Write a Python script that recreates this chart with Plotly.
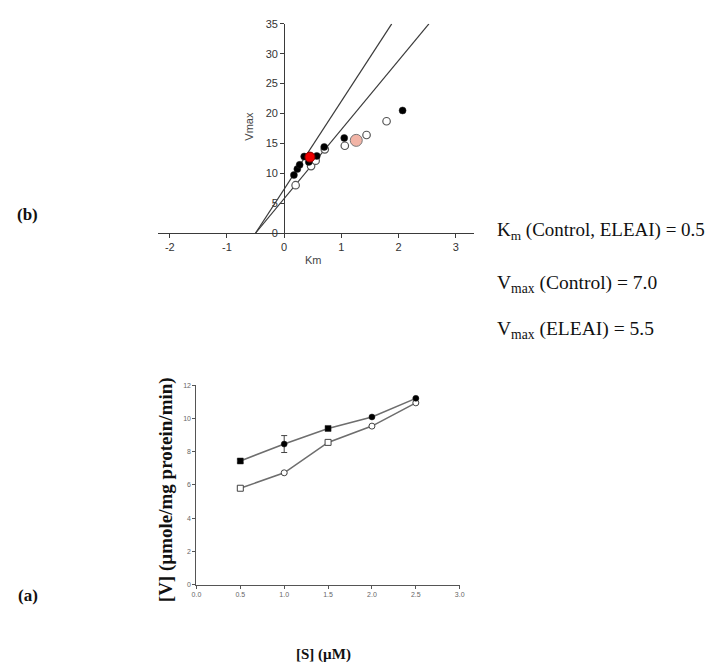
import plotly.graph_objects as go

W, H = 721, 671
OX, OY = 8, 8  # page body margin offset


def px(x):
    return (x - OX) / W


def py(y):
    return 1 - (y - OY) / H


# ---- (b) Km vs Vmax plot data ----
ctrl_km = [0.17, 0.23, 0.27, 0.35, 0.43, 0.57, 0.70, 1.05, 2.07]
ctrl_vmax = [9.7, 10.7, 11.4, 12.8, 11.9, 12.9, 14.4, 15.9, 20.5]
eleai_km = [0.20, 0.47, 0.55, 0.71, 1.06, 1.44, 1.79]
eleai_vmax = [8.0, 11.2, 12.1, 14.0, 14.6, 16.4, 18.7]
mean_ctrl_km = [0.45]
mean_ctrl_vmax = [12.7]
mean_eleai_km = [1.26]
mean_eleai_vmax = [15.5]
line_ctrl_km = [-0.5, 1.88]
line_ctrl_vmax = [0, 35]
line_eleai_km = [-0.5, 2.53]
line_eleai_vmax = [0, 35]
b_xticks = [-2, -1, 0, 1, 2, 3]
b_xticklabels = ["-2", "-1", "0", "1", "2", "3"]
b_yticks = [0, 5, 10, 15, 20, 25, 30, 35]

# ---- (a) V vs [S] data ----
S = [0.5, 1.0, 1.5, 2.0, 2.5]
v_ctrl = [7.44, 8.46, 9.40, 10.09, 11.21]
err_ctrl = [0.1, 0.51, 0.1, 0.05, 0.05]
v_eleai = [5.80, 6.73, 8.56, 9.54, 10.94]
err_eleai = [0.12, 0.05, 0.1, 0.05, 0.05]
a_xticks = [0.0, 0.5, 1.0, 1.5, 2.0, 2.5, 3.0]
a_yticks = [0, 2, 4, 6, 8, 10, 12]

fig = go.Figure()

# lines (b)
for lx, ly in [(line_ctrl_km, line_ctrl_vmax), (line_eleai_km, line_eleai_vmax)]:
    fig.add_trace(go.Scatter(x=lx, y=ly, mode="lines",
                             line=dict(color="#3a3a3a", width=1.2),
                             xaxis="x", yaxis="y", showlegend=False, hoverinfo="skip"))

fig.add_trace(go.Scatter(x=eleai_km, y=eleai_vmax, mode="markers",
                         marker=dict(size=7.5, color="white", line=dict(color="#555", width=1.2)),
                         xaxis="x", yaxis="y", showlegend=False))
fig.add_trace(go.Scatter(x=ctrl_km, y=ctrl_vmax, mode="markers",
                         marker=dict(size=7, color="black", line=dict(color="#222", width=0.5)),
                         xaxis="x", yaxis="y", showlegend=False))
fig.add_trace(go.Scatter(x=mean_ctrl_km, y=mean_ctrl_vmax, mode="markers",
                         marker=dict(size=10, color="#ee0000", line=dict(color="#880000", width=1)),
                         xaxis="x", yaxis="y", showlegend=False))
fig.add_trace(go.Scatter(x=mean_eleai_km, y=mean_eleai_vmax, mode="markers",
                         marker=dict(size=12, color="#f2b4a6", line=dict(color="#777", width=1)),
                         xaxis="x", yaxis="y", showlegend=False))

# (a)
sym_fill = ["square", "circle", "square", "circle", "circle"]
fig.add_trace(go.Scatter(x=S, y=v_eleai, mode="lines+markers",
                         line=dict(color="#6e6e6e", width=1.6),
                         marker=dict(size=6, symbol=sym_fill, color="white",
                                     line=dict(color="#444", width=1)),
                         error_y=dict(type="data", array=err_eleai, color="#444",
                                      thickness=1, width=3),
                         xaxis="x2", yaxis="y2", showlegend=False))
fig.add_trace(go.Scatter(x=S, y=v_ctrl, mode="lines+markers",
                         line=dict(color="#6e6e6e", width=1.6),
                         marker=dict(size=6, symbol=sym_fill, color="black",
                                     line=dict(color="#222", width=0.5)),
                         error_y=dict(type="data", array=err_ctrl, color="#444",
                                      thickness=1, width=3),
                         xaxis="x2", yaxis="y2", showlegend=False))

axis_common = dict(showgrid=False, zeroline=False, showline=True, ticks="outside",
                   mirror=False)

fig.update_layout(
    width=W, height=H,
    margin=dict(l=0, r=0, t=0, b=0),
    paper_bgcolor="white", plot_bgcolor="white",
    xaxis=dict(**axis_common, domain=[px(155), px(475)],
               range=[(155 - 283) / 58, (475 - 283) / 58],
               tickvals=b_xticks, ticktext=b_xticklabels, ticklen=4,
               linecolor="#3a3a3a", tickcolor="#3a3a3a",
               tickfont=dict(family="Liberation Sans", size=11, color="#333"),
               anchor="y"),
    yaxis=dict(**axis_common, domain=[py(231), py(18)], range=[0, 35],
               tickvals=b_yticks, ticklen=4, linecolor="#3a3a3a", tickcolor="#3a3a3a",
               tickfont=dict(family="Liberation Sans", size=11, color="#333"),
               anchor="free", position=px(283)),
    xaxis2=dict(**axis_common, domain=[px(194), px(461)], range=[0, 3],
                tickvals=a_xticks, tickformat=".1f", ticklen=3,
                linecolor="#555", tickcolor="#555",
                tickfont=dict(family="Liberation Sans", size=7, color="#666"),
                anchor="y2"),
    yaxis2=dict(**axis_common, domain=[py(589), py(386)], range=[0, 12],
                tickvals=a_yticks, ticklen=3,
                linecolor="#555", tickcolor="#555",
                tickfont=dict(family="Liberation Sans", size=7, color="#666"),
                anchor="x2"),
)

serif = "Liberation Serif"
ann = [
    dict(text="Vmax", x=px(247), y=py(122), textangle=-90,
         font=dict(family="Liberation Sans", size=11, color="#444")),
    dict(text="Km", x=px(313), y=py(258),
         font=dict(family="Liberation Sans", size=11, color="#444")),
    dict(text="<b>(b)</b>", x=px(23), y=py(212),
         font=dict(family=serif, size=17, color="#111")),
    dict(text="<b>(a)</b>", x=px(23), y=py(600),
         font=dict(family=serif, size=17, color="#111")),
    dict(text="<b>[V] (µmole/mg protein/min)</b>", x=px(163), y=py(492), textangle=-90,
         font=dict(family=serif, size=19, color="#111")),
    dict(text="<b>[S] (µM)</b>", x=px(323), y=py(660),
         font=dict(family=serif, size=15, color="#111")),
    dict(text="K<sub>m</sub> (Control, ELEAI) = 0.5", x=px(497), y=py(229), xanchor="left",
         font=dict(family=serif, size=19, color="#111")),
    dict(text="V<sub>max</sub> (Control) = 7.0", x=px(497), y=py(283), xanchor="left",
         font=dict(family=serif, size=19.5, color="#111")),
    dict(text="V<sub>max</sub> (ELEAI) = 5.5", x=px(497), y=py(330), xanchor="left",
         font=dict(family=serif, size=19.5, color="#111")),
]
for a in ann:
    a.setdefault("xanchor", "center")
    a.update(xref="paper", yref="paper", yanchor="middle", showarrow=False)
fig.update_layout(annotations=ann)

fig.write_html("out.html")
